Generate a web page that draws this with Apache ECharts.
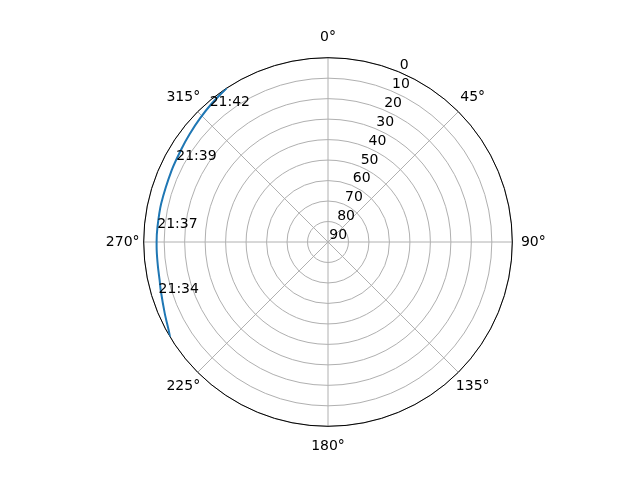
<!DOCTYPE html>
<html>
<head>
<meta charset="utf-8">
<script src="https://cdn.jsdelivr.net/npm/echarts@6/dist/echarts.min.js"></script>
<style>
html,body{margin:0;padding:0;background:#fff}
#main{width:640px;height:480px}
</style>
</head>
<body>
<div id="main"></div>
<script>
// satellite pass, azimuth (deg) and elevation (deg)
const azimuth = [239, 241.1, 246.4, 254, 257.3, 262, 267.3, 270, 275, 283, 294.7, 302.6, 308, 314, 320, 326.7]
const elevation = [0, 1.1, 3.0, 5.0, 5.7, 6.1, 6.25, 6.3, 6.4, 6.4, 6.0, 5.2, 4.3, 3.1, 1.7, 0]

const timeLabels = ['21:34', '21:37', '21:39', '21:42']
const labelAz = [253.2, 274.6, 298.4, 318.8]
const labelEl = [3.6, 6.4, 5.8, 2.3]

const font = 'DejaVu Sans'
const grid = '#b0b0b0'

const main = document.getElementById('main')
let myChart = echarts.init(main)

// angle labels are centred on a ring outside the plot, like matplotlib does;
// echarts aligns them by their outer edge, so pad the boxes to compensate
function angleLabel(v) {
  if (v % 180 === 0) return '{v|' + v + '°}'
  if (v % 90 === 0) return '{h|' + v + '°}'
  return '{d|' + v + '°}'
}

myChart.setOption({
  animation: false,
  backgroundColor: '#fff',
  textStyle: { fontFamily: font },
  polar: [
    { center: [328, 242], radius: 184.3 },
    // only carries the radius tick labels, turned to 22.5°
    { center: [329.3, 242.6], radius: 184.3 }
  ],
  angleAxis: [
    {
      polarIndex: 0,
      type: 'value',
      min: 0,
      max: 360,
      interval: 45,
      startAngle: 90,
      clockwise: true,
      axisLine: { lineStyle: { color: '#000', width: 1 } },
      axisTick: { show: false },
      axisLabel: {
        formatter: angleLabel,
        color: '#000',
        fontSize: 14,
        fontFamily: font,
        margin: -3,
        rich: {
          v: { fontSize: 14, fontFamily: font, color: '#000', lineHeight: 46 },
          h: { fontSize: 14, fontFamily: font, color: '#000', width: 48, align: 'center' },
          d: { fontSize: 14, fontFamily: font, color: '#000', width: 33, lineHeight: 32, align: 'center' }
        }
      },
      splitLine: { lineStyle: { color: grid, width: 1 } }
    },
    {
      polarIndex: 1,
      type: 'value',
      min: 0,
      max: 360,
      startAngle: 67.5,
      show: false
    }
  ],
  radiusAxis: [
    {
      polarIndex: 0,
      type: 'value',
      min: 0,
      max: 90,
      interval: 10,
      inverse: true,
      axisLine: { show: false },
      axisTick: { show: false },
      axisLabel: { show: false },
      splitLine: { lineStyle: { color: grid, width: 1 } }
    },
    {
      polarIndex: 1,
      type: 'value',
      min: 0,
      max: 90,
      interval: 10,
      inverse: true,
      axisLine: { show: false },
      axisTick: { show: false },
      splitLine: { show: false },
      axisLabel: {
        color: '#000',
        fontSize: 14,
        fontFamily: font,
        margin: 0,
        align: 'left',
        verticalAlign: 'bottom'
      }
    }
  ],
  series: [
    {
      type: 'line',
      coordinateSystem: 'polar',
      polarIndex: 0,
      data: azimuth.map((a, i) => [elevation[i], a]),
      showSymbol: false,
      smooth: 0.3,
      lineStyle: { color: '#1f77b4', width: 2 },
      z: 5
    },
    {
      type: 'scatter',
      coordinateSystem: 'polar',
      polarIndex: 0,
      data: labelAz.map((a, i) => [labelEl[i], a, timeLabels[i]]),
      symbolSize: 0.1,
      itemStyle: { color: 'rgba(0,0,0,0)' },
      label: {
        show: true,
        formatter: p => p.data[2],
        position: [0, 0],
        align: 'left',
        verticalAlign: 'bottom',
        offset: [0, 3],
        color: '#000',
        opacity: 1,
        textBorderWidth: 0,
        fontSize: 14,
        fontFamily: font
      },
      z: 6
    }
  ]
})
</script>
</body>
</html>
